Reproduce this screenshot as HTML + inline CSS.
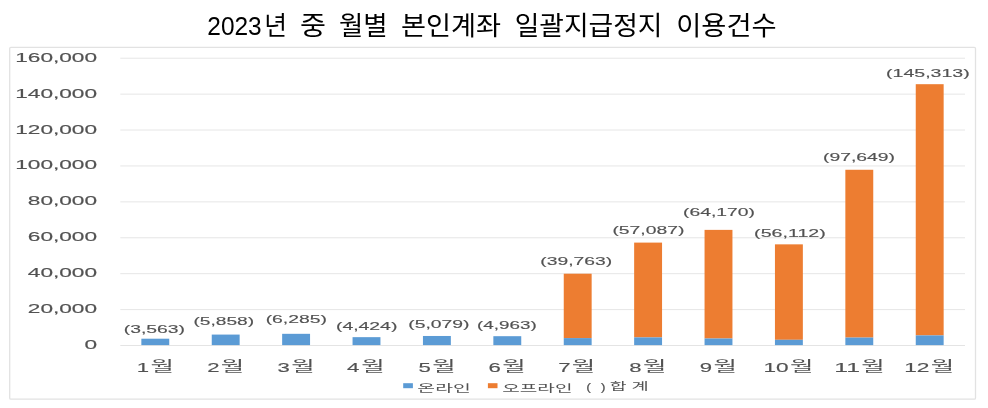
<!DOCTYPE html>
<html lang="ko"><head><meta charset="utf-8"><title>2023년 중 월별 본인계좌 일괄지급정지 이용건수</title>
<style>html,body{margin:0;padding:0;background:#fff}body{width:988px;height:408px;overflow:hidden}svg{display:block}text{font-family:"Liberation Sans", "Noto Sans CJK KR", sans-serif;fill:#525252;stroke:#525252;stroke-width:0.15px}.h{stroke:none}</style></head><body>
<svg width="988" height="408" viewBox="0 0 988 408">
<rect width="988" height="408" fill="#fff"/>
<rect x="9.7" y="47.4" width="965.8" height="351.7" rx="1.2" fill="#fff" stroke="#e2e2e2" stroke-width="1.3"/>
<line x1="120.3" x2="965.0" y1="345.50" y2="345.50" stroke="#e4e4e4" stroke-width="1"/>
<line x1="120.3" x2="965.0" y1="309.59" y2="309.59" stroke="#e6e6e6" stroke-width="1"/>
<line x1="120.3" x2="965.0" y1="273.68" y2="273.68" stroke="#e6e6e6" stroke-width="1"/>
<line x1="120.3" x2="965.0" y1="237.77" y2="237.77" stroke="#e6e6e6" stroke-width="1"/>
<line x1="120.3" x2="965.0" y1="201.86" y2="201.86" stroke="#e6e6e6" stroke-width="1"/>
<line x1="120.3" x2="965.0" y1="165.95" y2="165.95" stroke="#e6e6e6" stroke-width="1"/>
<line x1="120.3" x2="965.0" y1="130.04" y2="130.04" stroke="#e6e6e6" stroke-width="1"/>
<line x1="120.3" x2="965.0" y1="94.13" y2="94.13" stroke="#e6e6e6" stroke-width="1"/>
<line x1="120.3" x2="965.0" y1="58.22" y2="58.22" stroke="#e6e6e6" stroke-width="1"/>
<rect x="141.35" y="338.70" width="27.90" height="6.40" fill="#5b9bd5"/>
<rect x="211.75" y="334.58" width="27.90" height="10.52" fill="#5b9bd5"/>
<rect x="282.15" y="333.82" width="27.90" height="11.28" fill="#5b9bd5"/>
<rect x="352.55" y="337.16" width="27.90" height="7.94" fill="#5b9bd5"/>
<rect x="422.95" y="335.98" width="27.90" height="9.12" fill="#5b9bd5"/>
<rect x="493.35" y="336.19" width="27.90" height="8.91" fill="#5b9bd5"/>
<rect x="563.75" y="273.71" width="27.90" height="64.39" fill="#ed7d31"/>
<rect x="563.75" y="338.10" width="27.90" height="7.00" fill="#5b9bd5"/>
<rect x="634.15" y="242.60" width="27.90" height="94.80" fill="#ed7d31"/>
<rect x="634.15" y="337.40" width="27.90" height="7.70" fill="#5b9bd5"/>
<rect x="704.55" y="229.88" width="27.90" height="108.63" fill="#ed7d31"/>
<rect x="704.55" y="338.51" width="27.90" height="6.59" fill="#5b9bd5"/>
<rect x="774.95" y="244.35" width="27.90" height="95.45" fill="#ed7d31"/>
<rect x="774.95" y="339.80" width="27.90" height="5.30" fill="#5b9bd5"/>
<rect x="845.35" y="169.77" width="27.90" height="167.82" fill="#ed7d31"/>
<rect x="845.35" y="337.59" width="27.90" height="7.51" fill="#5b9bd5"/>
<rect x="915.75" y="84.19" width="27.90" height="251.21" fill="#ed7d31"/>
<rect x="915.75" y="335.40" width="27.90" height="9.70" fill="#5b9bd5"/>
<text transform="translate(84.52,349.00) scale(1.7627,1)" font-size="12.86">0</text>
<text transform="translate(27.80,313.09) scale(1.7627,1)" font-size="12.86">20,000</text>
<text transform="translate(27.80,277.18) scale(1.7627,1)" font-size="12.86">40,000</text>
<text transform="translate(27.80,241.27) scale(1.7627,1)" font-size="12.86">60,000</text>
<text transform="translate(27.80,205.36) scale(1.7627,1)" font-size="12.86">80,000</text>
<text transform="translate(15.20,169.45) scale(1.7627,1)" font-size="12.86">100,000</text>
<text transform="translate(15.20,133.54) scale(1.7627,1)" font-size="12.86">120,000</text>
<text transform="translate(15.20,97.63) scale(1.7627,1)" font-size="12.86">140,000</text>
<text transform="translate(15.20,61.72) scale(1.7627,1)" font-size="12.86">160,000</text>
<text transform="translate(123.74,333.30) scale(1.6923,1)" font-size="11.43">(3,563)</text>
<text transform="translate(193.45,325.30) scale(1.6780,1)" font-size="11.43">(5,858)</text>
<text transform="translate(265.64,322.90) scale(1.6980,1)" font-size="11.43">(6,285)</text>
<text transform="translate(335.94,329.90) scale(1.6980,1)" font-size="11.43">(4,424)</text>
<text transform="translate(408.24,328.20) scale(1.6952,1)" font-size="11.43">(5,079)</text>
<text transform="translate(477.07,328.50) scale(1.6493,1)" font-size="11.43">(4,963)</text>
<text transform="translate(540.24,265.20) scale(1.6885,1)" font-size="11.43">(39,763)</text>
<text transform="translate(612.44,234.00) scale(1.6909,1)" font-size="11.43">(57,087)</text>
<text transform="translate(683.04,216.10) scale(1.6885,1)" font-size="11.43">(64,170)</text>
<text transform="translate(754.12,236.60) scale(1.7190,1)" font-size="11.43">(56,112)</text>
<text transform="translate(822.94,161.20) scale(1.6934,1)" font-size="11.43">(97,649)</text>
<text transform="translate(886.03,77.00) scale(1.7109,1)" font-size="11.43">(145,313)</text>
<text transform="translate(136.82,371.90) scale(1.7200,1)" font-size="12.86">1</text><text class="h" transform="translate(150.45,370.60) scale(1.8380,1)" font-size="13.90">월</text>
<text transform="translate(207.22,371.90) scale(1.7200,1)" font-size="12.86">2</text><text class="h" transform="translate(220.85,370.60) scale(1.8380,1)" font-size="13.90">월</text>
<text transform="translate(277.51,371.90) scale(1.7200,1)" font-size="12.86">3</text><text class="h" transform="translate(291.25,370.60) scale(1.8380,1)" font-size="13.90">월</text>
<text transform="translate(347.08,371.90) scale(1.7200,1)" font-size="12.86">4</text><text class="h" transform="translate(361.15,370.60) scale(1.8380,1)" font-size="13.90">월</text>
<text transform="translate(418.61,371.90) scale(1.7200,1)" font-size="12.86">5</text><text class="h" transform="translate(432.35,370.60) scale(1.8380,1)" font-size="13.90">월</text>
<text transform="translate(488.61,371.90) scale(1.7200,1)" font-size="12.86">6</text><text class="h" transform="translate(502.35,370.60) scale(1.8380,1)" font-size="13.90">월</text>
<text transform="translate(558.22,371.90) scale(1.7200,1)" font-size="12.86">7</text><text class="h" transform="translate(571.85,370.60) scale(1.8380,1)" font-size="13.90">월</text>
<text transform="translate(629.31,371.90) scale(1.7200,1)" font-size="12.86">8</text><text class="h" transform="translate(643.05,370.60) scale(1.8380,1)" font-size="13.90">월</text>
<text transform="translate(699.82,371.90) scale(1.7200,1)" font-size="12.86">9</text><text class="h" transform="translate(713.45,370.60) scale(1.8380,1)" font-size="13.90">월</text>
<text transform="translate(763.41,371.90) scale(1.7558,1)" font-size="12.86">10</text><text class="h" transform="translate(790.05,370.60) scale(1.8380,1)" font-size="13.90">월</text>
<text transform="translate(834.34,371.90) scale(1.9340,1)" font-size="12.86">11</text><text class="h" transform="translate(861.35,370.60) scale(1.8380,1)" font-size="13.90">월</text>
<text transform="translate(904.19,371.90) scale(1.7735,1)" font-size="12.86">12</text><text class="h" transform="translate(930.85,370.60) scale(1.8380,1)" font-size="13.90">월</text>
<rect x="403.2" y="383.2" width="9.7" height="5" fill="#5b9bd5"/>
<rect x="487.9" y="383.2" width="9.6" height="5" fill="#ed7d31"/>
<text transform="translate(417.33,391.60) scale(1.8120,1)" font-size="10.70" class="h">온라인</text>
<text transform="translate(502.14,391.60) scale(1.7872,1)" font-size="10.70" class="h">오프라인</text>
<text transform="translate(586.18,390.60) scale(1.4300,1)" font-size="10.10">( <tspan x="10.17">)</tspan></text>
<text transform="translate(609.78,390.40) scale(1.7125,1)" font-size="10.70" class="h">합</text>
<text transform="translate(631.56,390.40) scale(1.7486,1)" font-size="10.70" class="h">계</text>
<text transform="translate(207.28,35.20) scale(0.9411,1)" font-size="26.00" style="fill:#000;stroke:none">2023</text>
<text transform="translate(264.33,35.20) scale(0.9509,1)" font-size="26.00" style="fill:#000;stroke:none">년</text>
<text transform="translate(299.93,35.20) scale(1.0862,1)" font-size="26.00" style="fill:#000;stroke:none">중</text>
<text transform="translate(338.91,35.20) scale(1.0174,1)" font-size="26.00" style="fill:#000;stroke:none">월별</text>
<text transform="translate(400.98,35.20) scale(1.0466,1)" font-size="26.00" style="fill:#000;stroke:none">본인계좌</text>
<text transform="translate(514.66,35.20) scale(1.0300,1)" font-size="26.00" style="fill:#000;stroke:none">일괄지급정지</text>
<text transform="translate(676.22,35.20) scale(1.0498,1)" font-size="26.00" style="fill:#000;stroke:none">이용건수</text>
</svg></body></html>
